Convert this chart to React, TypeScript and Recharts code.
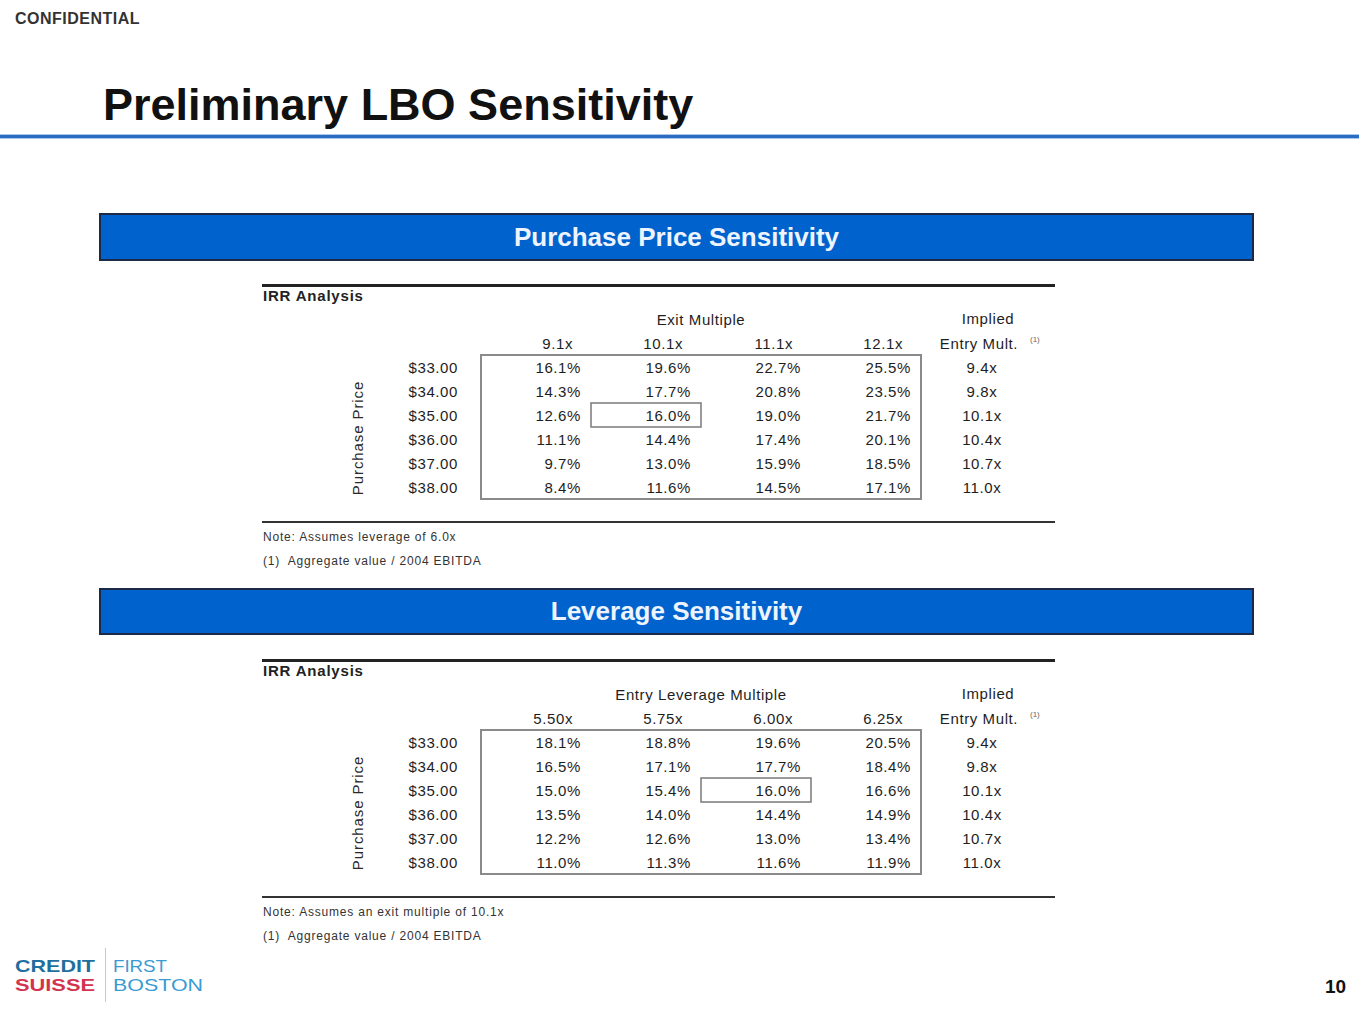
import React from "react";
import { ScatterChart, Scatter, XAxis, YAxis, ReferenceArea } from "recharts";

// rows shared by both tables
const purchasePrices = ["$33.00", "$34.00", "$35.00", "$36.00", "$37.00", "$38.00"];
const impliedEntryMult = [9.4, 9.8, 10.1, 10.4, 10.7, 11.0];
const basePrice = "$35.00";

// purchase price sensitivity (exit multiple)
const exitMultiples = ["9.1x", "10.1x", "11.1x", "12.1x"];
const exitIrr = [
  [16.1, 19.6, 22.7, 25.5],
  [14.3, 17.7, 20.8, 23.5],
  [12.6, 16.0, 19.0, 21.7],
  [11.1, 14.4, 17.4, 20.1],
  [9.7, 13.0, 15.9, 18.5],
  [8.4, 11.6, 14.5, 17.1],
];
const exitBase = "10.1x";

// leverage sensitivity (entry leverage multiple)
const leverageMultiples = ["5.50x", "5.75x", "6.00x", "6.25x"];
const leverageIrr = [
  [18.1, 18.8, 19.6, 20.5],
  [16.5, 17.1, 17.7, 18.4],
  [15.0, 15.4, 16.0, 16.6],
  [13.5, 14.0, 14.4, 14.9],
  [12.2, 12.6, 13.0, 13.4],
  [11.0, 11.3, 11.6, 11.9],
];
const leverageBase = "6.00x";

const IMPLIED = "Implied";
const FONT = "'Liberation Sans', Arial, Helvetica, sans-serif";
const INK = "#1e1e1e";
const FS = 15;
const LS = 0.6;

function buildCells(cols: string[], irr: number[][]) {
  const out: any[] = [];
  purchasePrices.forEach((price, r) => {
    cols.forEach((col, c) => {
      out.push({ col, price, text: irr[r][c].toFixed(1) + "%", kind: "irr" });
    });
    out.push({ col: IMPLIED, price, text: impliedEntryMult[r].toFixed(1) + "x", kind: "mult" });
  });
  return out;
}

const CellText = (props: any) => {
  const { cx, cy, payload } = props;
  const mult = payload.kind === "mult";
  return (
    <text
      x={mult ? cx + 6 : cx + 45}
      y={cy + 6}
      textAnchor={mult ? "middle" : "end"}
      fontSize={FS}
      letterSpacing={LS}
      fill={INK}
    >
      {payload.text}
    </text>
  );
};

const HeaderTick = (props: any) => {
  const { x, y, payload } = props;
  if (payload.value === IMPLIED) {
    return (
      <g fill={INK} fontSize={FS} letterSpacing={LS}>
        <text x={x + 12} y={y - 31} textAnchor="middle">Implied</text>
        <text x={x + 3} y={y - 6} textAnchor="middle">Entry Mult.</text>
        <text x={x + 54} y={y - 13} fontSize={8} fill="#666" letterSpacing={0}>(1)</text>
      </g>
    );
  }
  return (
    <text x={x + 37} y={y - 6} textAnchor="end" fontSize={FS} letterSpacing={LS} fill={INK}>
      {payload.value}
    </text>
  );
};

const RowTick = (props: any) => {
  const { x, y, payload } = props;
  return (
    <text x={x - 23} y={y + 6} textAnchor="end" fontSize={FS} letterSpacing={LS} fill={INK}>
      {payload.value}
    </text>
  );
};

const SideLabel = (props: any) => {
  const vb = props.viewBox || { x: 0, y: 0, width: 0, height: 0 };
  const cx = vb.x - 4;
  const cy = vb.y + vb.height / 2 + 11;
  return (
    <text
      x={cx}
      y={cy}
      transform={`rotate(-90, ${cx}, ${cy})`}
      textAnchor="middle"
      dominantBaseline="central"
      fontSize={FS}
      letterSpacing={0.9}
      fill="#2a2a2a"
    >
      Purchase Price
    </text>
  );
};

const SensitivityTable = ({ cols, irr, title, base, top, notes }: any) => {
  const cells = buildCells(cols, irr);
  return (
    <>
      <div style={{ position: "absolute", left: 262, top: top - 1, width: 793, height: 3, background: "#222" }} />
      <div
        style={{
          position: "absolute",
          left: 263,
          top: top + 3,
          fontSize: 15,
          fontWeight: "bold",
          letterSpacing: 0.8,
          color: "#222",
          lineHeight: "15px",
        }}
      >
        IRR Analysis
      </div>
      <div style={{ position: "absolute", left: 262, top, width: 793, height: 240 }}>
        <ScatterChart width={793} height={240} margin={{ top: 30, right: 24, bottom: 26, left: 99 }}>
          <XAxis
            dataKey="col"
            type="category"
            allowDuplicatedCategory={false}
            orientation="top"
            height={40}
            axisLine={false}
            tickLine={false}
            tickSize={0}
            tickMargin={0}
            interval={0}
            tick={<HeaderTick />}
          />
          <YAxis
            dataKey="price"
            type="category"
            allowDuplicatedCategory={false}
            reversed
            width={120}
            axisLine={false}
            tickLine={false}
            tickSize={0}
            tickMargin={0}
            interval={0}
            tick={<RowTick />}
            label={<SideLabel />}
          />
          <ReferenceArea
            x1={cols[0]}
            x2={cols[cols.length - 1]}
            fill="none"
            stroke="#8a8a8a"
            strokeWidth={2}
            fillOpacity={0}
            label={{ value: title, position: "top", offset: 30, fill: INK, fontSize: FS, letterSpacing: LS }}
          />
          <ReferenceArea
            x1={base}
            x2={base}
            y1={basePrice}
            y2={basePrice}
            fill="none"
            fillOpacity={0}
            stroke="#7a7a7a"
            strokeWidth={1.5}
          />
          <Scatter data={cells} shape={CellText} isAnimationActive={false} />
        </ScatterChart>
      </div>
      <div style={{ position: "absolute", left: 262, top: top + 236, width: 793, height: 2, background: "#333" }} />
      {notes.map((n: string, i: number) => (
        <div
          key={n}
          style={{
            position: "absolute",
            left: 263,
            top: top + 246 + i * 24,
            fontSize: 12,
            letterSpacing: 0.8,
            lineHeight: "12px",
            color: "#333",
            whiteSpace: "pre",
          }}
        >
          {n}
        </div>
      ))}
    </>
  );
};

const Banner = ({ text, top, height }: any) => (
  <div
    style={{
      position: "absolute",
      left: 99,
      top,
      width: 1155,
      height,
      boxSizing: "border-box",
      background: "#0062cc",
      border: "2px solid #1c2a48",
      color: "#eef4ff",
      fontSize: 26,
      fontWeight: "bold",
      display: "flex",
      alignItems: "center",
      justifyContent: "center",
    }}
  >
    {text}
  </div>
);

// wide, tight logotype drawn as stretched svg text
const Logo = () => (
  <svg style={{ position: "absolute", left: 0, top: 940 }} width={220} height={70}>
    <g fontFamily={FONT} fontSize={17}>
      <text x={15} y={32} textLength={80} lengthAdjust="spacingAndGlyphs" fontWeight="bold" fill="#1f6f9e">CREDIT</text>
      <text x={15} y={51} textLength={80} lengthAdjust="spacingAndGlyphs" fontWeight="bold" fill="#d2334f">SUISSE</text>
      <line x1={105.5} y1={8} x2={105.5} y2={62} stroke="#c8c8c8" strokeWidth={1} />
      <text x={113} y={32} textLength={54} lengthAdjust="spacingAndGlyphs" fill="#3a9bd3">FIRST</text>
      <text x={113} y={51} textLength={90} lengthAdjust="spacingAndGlyphs" fill="#3a9bd3">BOSTON</text>
    </g>
  </svg>
);

export default function App() {
  return (
    <div
      style={{
        position: "absolute",
        left: 0,
        top: 0,
        width: 1359,
        height: 1020,
        overflow: "hidden",
        background: "#fff",
        fontFamily: FONT,
      }}
    >
      <div style={{ position: "absolute", left: 15, top: 11, fontSize: 16, fontWeight: "bold", letterSpacing: 0.5, lineHeight: "16px", color: "#333" }}>
        CONFIDENTIAL
      </div>
      <div style={{ position: "absolute", left: 103, top: 82, fontSize: 45, fontWeight: "bold", lineHeight: "45px", color: "#111", whiteSpace: "nowrap" }}>
        Preliminary LBO Sensitivity
      </div>
      <div style={{ position: "absolute", left: 0, top: 134, width: 1359, height: 5, background: "#a9c8ec" }} />
      <div style={{ position: "absolute", left: 0, top: 135, width: 1359, height: 3, background: "#2c6cc0" }} />

      <Banner text="Purchase Price Sensitivity" top={213} height={48} />
      <SensitivityTable
        cols={exitMultiples}
        irr={exitIrr}
        title="Exit Multiple"
        base={exitBase}
        top={285}
        notes={["Note: Assumes leverage of 6.0x", "(1)  Aggregate value / 2004 EBITDA"]}
      />

      <Banner text="Leverage Sensitivity" top={588} height={47} />
      <SensitivityTable
        cols={leverageMultiples}
        irr={leverageIrr}
        title="Entry Leverage Multiple"
        base={leverageBase}
        top={660}
        notes={["Note: Assumes an exit multiple of 10.1x", "(1)  Aggregate value / 2004 EBITDA"]}
      />

      <Logo />
      <div style={{ position: "absolute", left: 1325, top: 977, fontSize: 19, fontWeight: "bold", lineHeight: "19px", color: "#111" }}>
        10
      </div>
    </div>
  );
}
